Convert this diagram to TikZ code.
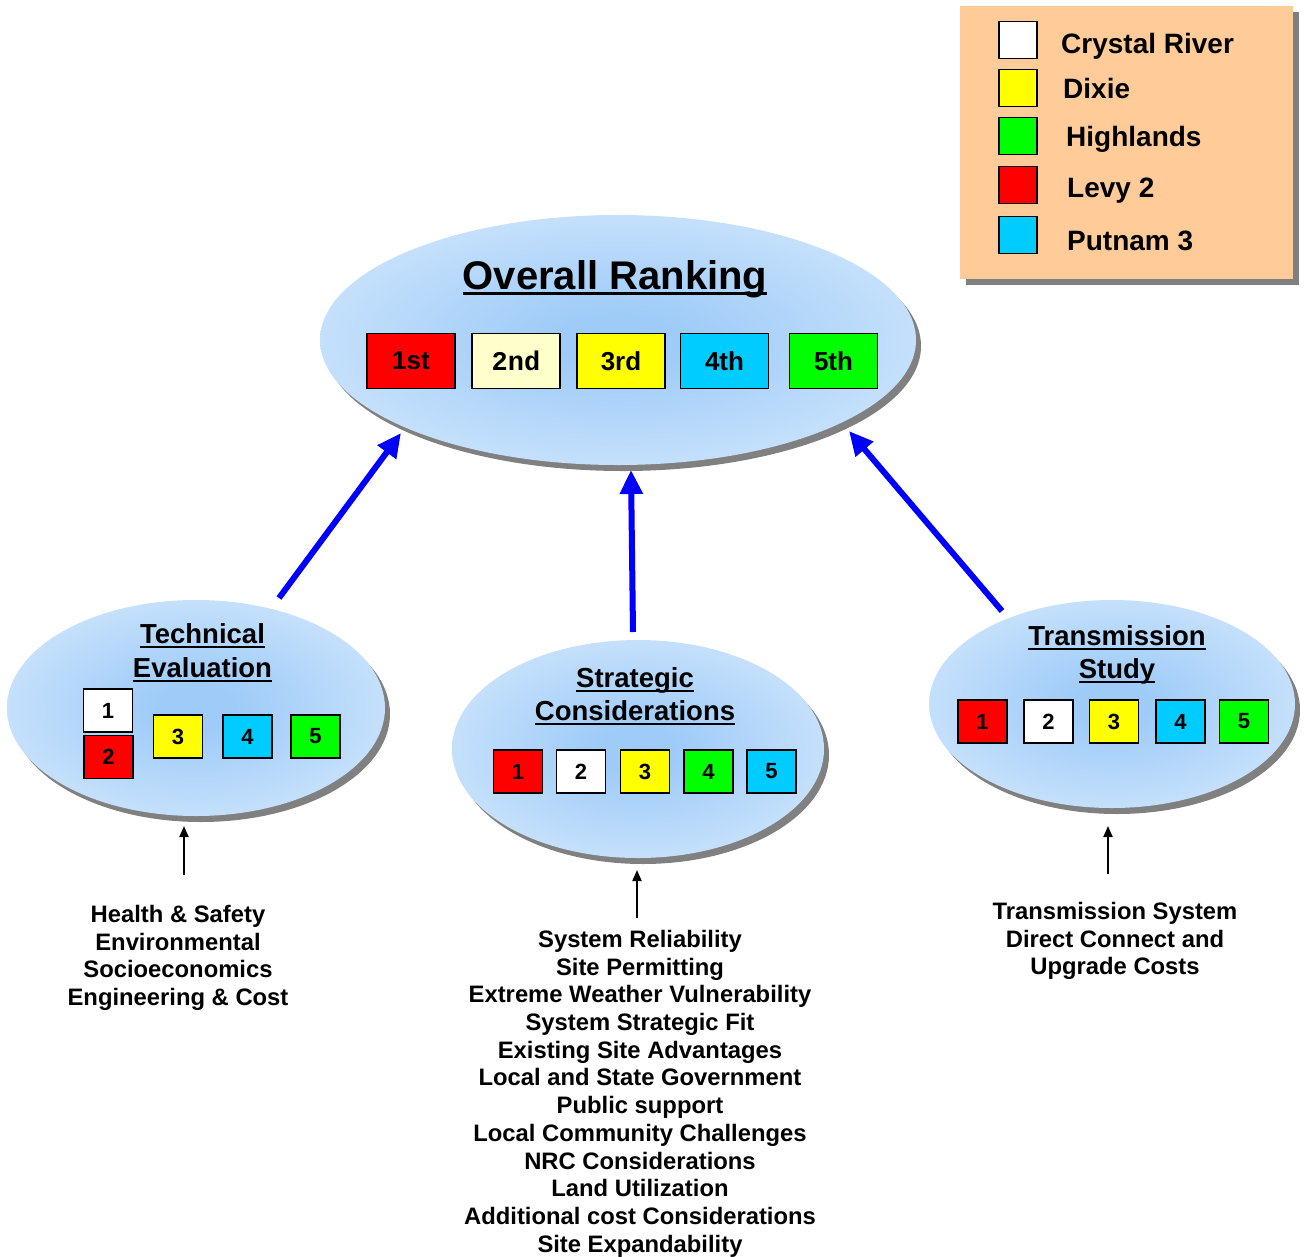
\documentclass[tikz,border=0pt]{standalone}
\usepackage{fontspec}
\setmainfont{Liberation Sans}
\newfontfamily\monofam{Liberation Mono}
\usetikzlibrary{shapes.geometric,shadows,arrows.meta}
\definecolor{ellin}{RGB}{158,203,248}
\definecolor{ellmid}{RGB}{206,229,252}
\definecolor{ellout}{RGB}{250,252,255}
\definecolor{shadowgray}{RGB}{128,128,128}
\definecolor{peach}{RGB}{255,204,153}
\definecolor{cred}{RGB}{255,0,0}
\definecolor{cyel}{RGB}{255,255,0}
\definecolor{cgrn}{RGB}{0,255,0}
\definecolor{ccyan}{RGB}{0,204,255}
\definecolor{cpale}{RGB}{255,255,204}
\definecolor{arrblue}{RGB}{0,0,255}
\pgfdeclareradialshading{ellshade}{\pgfpoint{0bp}{0bp}}{color(0bp)=(ellin); color(5bp)=(ellin); color(30bp)=(ellmid); color(46bp)=(ellout); color(50bp)=(ellout)}
\newcommand{\myul}[3]{\setbox0\hbox{#1}\rlap{\rule[#2]{\wd0}{#3}}\box0}
\tikzset{
  ellnode/.style={ellipse, inner sep=0pt, shading=ellshade,
    drop shadow={shadow xshift=5pt, shadow yshift=-6pt, fill=shadowgray, opacity=1}},
  rkbox/.style={draw=black, line width=1.6pt, minimum width=88pt, minimum height=55pt,
    inner sep=0pt, font=\bfseries\fontsize{26}{30}\selectfont},
  smbox/.style={draw=black, line width=1.6pt, minimum width=49pt, minimum height=43pt,
    inner sep=0pt, font=\bfseries\fontsize{22}{26}\selectfont},
  lgbox/.style={draw=black, line width=1.6pt, minimum width=38pt, minimum height=37pt, inner sep=0pt},
  lgtext/.style={anchor=base west, inner sep=0pt, font=\bfseries\fontsize{28}{32}\selectfont},
  ttl/.style={anchor=base, inner sep=0pt, font=\bfseries\fontsize{27.5}{32}\selectfont},
  listtext/.style={anchor=north, inner sep=0pt, align=center, font=\bfseries\fontsize{23.8}{27.7}\selectfont},
  bluearrow/.style={draw=arrblue, line width=6pt, -{Triangle[length=24pt,width=22pt]}},
  blackarrow/.style={draw=black, line width=2pt, -{Triangle[length=11pt,width=9pt]}}
}
\begin{document}
\begin{tikzpicture}[x=1pt,y=-1pt]
\useasboundingbox (0,0) rectangle (1304,1256);
\fill[white] (0,0) rectangle (1304,1256);

% legend
\node[fill=peach, minimum width=333pt, minimum height=273pt, inner sep=0pt,
  drop shadow={shadow xshift=6pt, shadow yshift=-6pt, fill=shadowgray, opacity=1}] (legend) at (1126.5,142.5) {};
\node[lgbox, fill=white] (lg1) at (1018,40) {};
\node[lgbox, fill=cyel] (lg2) at (1018,88) {};
\node[lgbox, fill=cgrn] (lg3) at (1018,136) {};
\node[lgbox, fill=cred] (lg4) at (1018,185) {};
\node[lgbox, fill=ccyan] (lg5) at (1018,235) {};
\node[lgtext] (lgt1) at (1061,53) {Crystal River};
\node[lgtext] (lgt2) at (1063,98) {Dixie};
\node[lgtext] (lgt3) at (1066,146) {Highlands};
\node[lgtext] (lgt4) at (1067,197) {Levy 2};
\node[lgtext] (lgt5) at (1067,250) {Putnam 3};

% overall ellipse
\node[ellnode, minimum width=596pt, minimum height=250pt] (overall) at (618,340) {};
\node[anchor=base, inner sep=0pt, font=\bfseries\fontsize{40}{44}\selectfont] (overallt) at (615,289)
  {\myul{Overall Ranking}{-6pt}{3pt}};
\node[rkbox, fill=cred] (r1) at (411,361) {1st};
\node[rkbox, fill=cpale, font=\monofam\bfseries\fontsize{27}{30}\selectfont] (r2) at (516,361) {2nd};
\node[rkbox, fill=cyel] (r3) at (621,361) {3rd};
\node[rkbox, fill=ccyan] (r4) at (724.5,361) {4th};
\node[rkbox, fill=cgrn] (r5) at (833.5,361) {5th};

% technical evaluation
\node[ellnode, minimum width=378pt, minimum height=216pt] (tech) at (196,708) {};
\node[ttl] (techt1) at (202.5,643) {\myul{Technical}{-5pt}{2.2pt}};
\node[ttl] (techt2) at (202.5,677) {\myul{Evaluation}{-5pt}{2.2pt}};
\node[smbox, fill=white] (t1) at (108,710.5) {1};
\node[smbox, fill=cred] (t2) at (108.5,757) {2};
\node[smbox, fill=cyel] (t3) at (178,736.5) {3};
\node[smbox, fill=ccyan] (t4) at (247.5,736.5) {4};
\node[smbox, fill=cgrn] (t5) at (315.5,736.5) {5};

% strategic considerations
\node[ellnode, minimum width=372pt, minimum height=218pt] (strat) at (638,749) {};
\node[ttl] (stratt1) at (635,687) {\myul{Strategic}{-5pt}{2.2pt}};
\node[ttl] (stratt2) at (635,720) {\myul{Considerations}{-5pt}{2.2pt}};
\node[smbox, fill=cred] (s1) at (518,771.5) {1};
\node[smbox, fill=white] (s2) at (581,771.5) {2};
\node[smbox, fill=cyel] (s3) at (645,771.5) {3};
\node[smbox, fill=cgrn] (s4) at (708.5,771.5) {4};
\node[smbox, fill=ccyan] (s5) at (771.5,771.5) {5};

% transmission study
\node[ellnode, minimum width=366pt, minimum height=208pt] (trans) at (1112,704) {};
\node[ttl] (transt1) at (1117,645) {\myul{Transmission}{-5pt}{2.2pt}};
\node[ttl] (transt2) at (1117,678) {\myul{Study}{-5pt}{2.2pt}};
\node[smbox, fill=cred] (x1) at (982.5,721.5) {1};
\node[smbox, fill=white] (x2) at (1048.5,721.5) {2};
\node[smbox, fill=cyel] (x3) at (1114,721.5) {3};
\node[smbox, fill=ccyan] (x4) at (1180.5,721.5) {4};
\node[smbox, fill=cgrn] (x5) at (1244,721.5) {5};

% blue arrows
\coordinate (la1) at (279,598);
\coordinate (la2) at (401,433);
\coordinate (ma1) at (633,632);
\coordinate (ma2) at (631,470);
\coordinate (ra1) at (1002,611);
\coordinate (ra2) at (849,431);
\draw[bluearrow] (la1) -- (la2);
\draw[bluearrow] (ma1) -- (ma2);
\draw[bluearrow] (ra1) -- (ra2);

% criteria lists
\node[listtext] (techlist) at (178,905) {Health \& Safety\\Environmental\\Socioeconomics\\Engineering \& Cost};
\node[listtext] (stratlist) at (640,930) {System Reliability\\Site Permitting\\Extreme Weather Vulnerability\\System Strategic Fit\\Existing Site Advantages\\Local and State Government\\Public support\\Local Community Challenges\\NRC Considerations\\Land Utilization\\Additional cost Considerations\\Site Expandability};
\node[listtext] (translist) at (1115,902) {Transmission System\\Direct Connect and\\Upgrade Costs};

% black arrows
\coordinate (lb1) at (184,875);
\coordinate (lb2) at (184,826);
\coordinate (mb1) at (637,918);
\coordinate (mb2) at (637,870);
\coordinate (rb1) at (1108,874);
\coordinate (rb2) at (1108,826);
\draw[blackarrow] (lb1) -- (lb2);
\draw[blackarrow] (mb1) -- (mb2);
\draw[blackarrow] (rb1) -- (rb2);
\end{tikzpicture}
\end{document}
